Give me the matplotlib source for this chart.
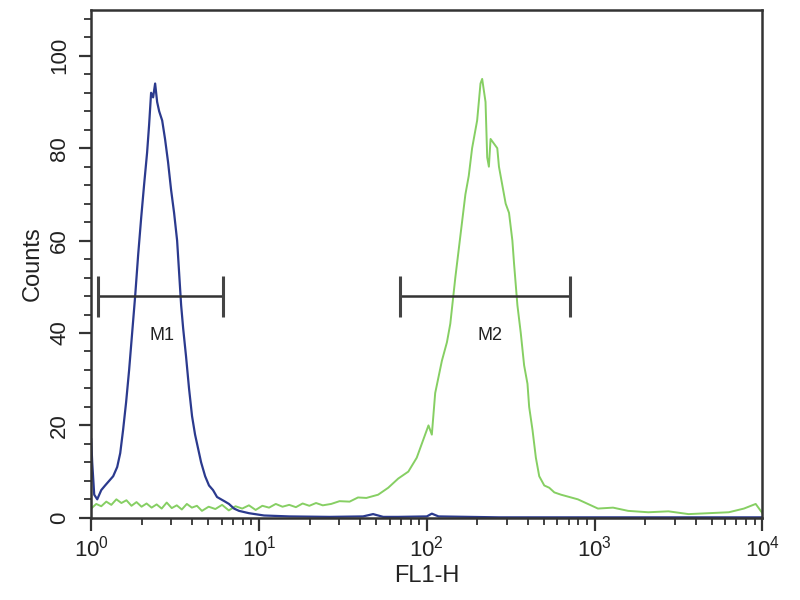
import numpy as np
import matplotlib.pyplot as plt
from matplotlib.ticker import FixedLocator, LogLocator, NullFormatter

# histogram channels given as log10(FL1-H), counts
blue_log = [0.0, 0.006, 0.018, 0.036, 0.06, 0.083, 0.107, 0.131, 0.155, 0.173,
            0.19, 0.208, 0.226, 0.244, 0.262, 0.28, 0.298, 0.315, 0.333, 0.345,
            0.357, 0.369, 0.381, 0.393, 0.405, 0.423, 0.44, 0.458, 0.476, 0.494,
            0.512, 0.524, 0.536, 0.548, 0.565, 0.583, 0.601, 0.619, 0.637, 0.655,
            0.679, 0.702, 0.726, 0.75, 0.774, 0.798, 0.821, 0.851, 0.881, 0.94,
            1.03, 1.18, 1.42, 1.62, 1.68, 1.74, 1.83, 2.0, 2.03, 2.07, 2.43, 3.0, 4.0]
blue_counts = [17, 12, 5, 4, 6, 7, 8, 9, 11, 14,
               19, 25, 32, 40, 48, 57, 65, 72, 79, 85,
               92, 91, 94, 90, 88, 86, 82, 77, 71, 66,
               60, 53, 46, 41, 35, 28, 22, 18, 15, 12,
               9, 7, 6, 4.5, 4, 3.5, 3, 2, 1.5, 1,
               0.5, 0.3, 0.2, 0.3, 0.8, 0.2, 0.2, 0.3, 0.9, 0.3, 0.1, 0.1, 0.1]

green_log = [0.0, 0.03, 0.06, 0.09, 0.12, 0.15, 0.18, 0.21, 0.24, 0.27,
             0.30, 0.33, 0.36, 0.39, 0.42, 0.45, 0.48, 0.51, 0.54, 0.57,
             0.60, 0.63, 0.66, 0.70, 0.74, 0.78, 0.82, 0.86, 0.90, 0.94,
             0.98, 1.02, 1.06, 1.10, 1.14, 1.18, 1.22, 1.26, 1.30, 1.34,
             1.38, 1.43, 1.48, 1.54, 1.59, 1.64, 1.71, 1.77, 1.83, 1.89,
             1.94, 1.97, 2.01, 2.03, 2.05, 2.09, 2.12, 2.14, 2.17, 2.20,
             2.23, 2.25, 2.27, 2.29, 2.30, 2.31, 2.32, 2.33, 2.35, 2.36,
             2.37, 2.38, 2.40, 2.42, 2.43, 2.45, 2.47, 2.49, 2.51, 2.52,
             2.54, 2.56, 2.58, 2.60, 2.61, 2.63, 2.65, 2.67, 2.70, 2.73,
             2.76, 2.80, 2.85, 2.90, 2.96, 3.02, 3.11, 3.2, 3.32, 3.44,
             3.56, 3.68, 3.80, 3.89, 3.96, 4.0]
green_counts = [2, 3, 2.5, 3.5, 2.8, 4, 3.2, 3.8, 2.6, 3.4,
                2.4, 3.1, 2.2, 2.9, 2.0, 3.3, 2.1, 2.7, 1.8, 3.0,
                2.2, 2.6, 1.5, 2.4, 1.9, 2.8, 1.6, 2.5, 2.0, 2.7,
                1.7, 2.6, 2.2, 3.0, 2.4, 2.8, 2.3, 3.1, 2.6, 3.2,
                2.7, 3.0, 3.6, 3.5, 4.4, 4.3, 5.0, 6.5, 8.5, 10,
                13, 16, 20, 18, 27, 34, 38, 42, 52, 61,
                70, 74, 80, 84, 86, 90, 94, 95, 90, 78,
                76, 82, 81, 80, 76, 72, 68, 66, 60, 55,
                46, 40, 33, 29, 24, 19, 13, 9, 7, 6.5,
                5.5, 5, 4.5, 4, 3, 2, 2.2, 1.5, 1.2, 1.4,
                0.8, 1.0, 1.2, 2.0, 3.0, 1.0]

# marker gates (FL1-H range, height) and labels
m1_range = [1.10, 6.1]
m2_range = [69.5, 717]
gate_y = 48
gate_cap = [43.4, 52.3]
m1_label = (2.65, 39.5, 'M1')
m2_label = (239, 39.5, 'M2')

plt.rcParams['font.family'] = ['Liberation Sans', 'DejaVu Sans']

fig = plt.figure(figsize=(8, 6), dpi=100)
ax = fig.add_axes([0.114, 0.137, 0.839, 0.847])

ax.plot(10 ** np.array(green_log), green_counts, color='#86cf63', lw=1.4)
ax.plot(10 ** np.array(blue_log), blue_counts, color='#2b3a8e', lw=1.6)

for lo, hi in (m1_range, m2_range):
    ax.plot([lo, hi], [gate_y, gate_y], color='#333333', lw=1.8)
    ax.vlines([lo, hi], gate_cap[0], gate_cap[1], color='#444444', lw=2.2)
for x, y, s in (m1_label, m2_label):
    ax.text(x, y, s, ha='center', va='center', fontsize=13, color='#222222')

ax.set_xscale('log')
ax.set_xlim(1, 1e4)
ax.set_ylim(0, 110)
ax.xaxis.set_major_locator(LogLocator(base=10, numticks=10))
ax.xaxis.set_minor_locator(LogLocator(base=10, subs=np.arange(2, 10), numticks=20))
ax.xaxis.set_minor_formatter(NullFormatter())
ax.yaxis.set_major_locator(FixedLocator([0, 20, 40, 60, 80, 100]))
ax.yaxis.set_minor_locator(FixedLocator(np.arange(0, 110, 4)))

for s in ax.spines.values():
    s.set_color('#333333')
    s.set_linewidth(1.8)

ax.tick_params(axis='both', which='major', length=9, width=1.6, color='#333333',
               labelsize=16, labelcolor='#222222')
ax.tick_params(axis='both', which='minor', length=5, width=1.3, color='#333333')
ax.tick_params(axis='x', which='major', pad=4)
ax.tick_params(axis='y', which='major', pad=6)
for lab in ax.get_yticklabels():
    lab.set_rotation(90)
    lab.set_va('center')

ax.set_xlabel('FL1-H', fontsize=17, color='#222222', labelpad=2)
ax.set_ylabel('Counts', fontsize=17, color='#222222', labelpad=4)

fig.savefig('out.png', dpi=100)
